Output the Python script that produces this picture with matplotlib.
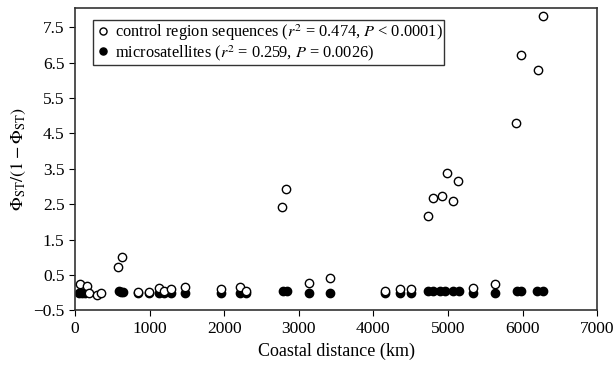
import numpy as np
from matplotlib import pyplot as plt

plt.rcParams['font.family'] = ['Liberation Serif', 'DejaVu Serif']
plt.rcParams['mathtext.fontset'] = 'stix'

# control region sequences (open circles)
cr_dist = [67, 157, 188, 290, 344, 581, 634, 849, 996, 1130, 1193, 1287, 1475,
           1953, 2208, 2288, 2779, 2833, 3140, 3422, 4155, 4361, 4500,
           4732, 4799, 4920, 4987, 5072, 5138, 5330, 5634, 5916, 5974, 6202, 6278]
cr_val = [0.24, 0.18, -0.01, -0.05, -0.01, 0.74, 1.0, 0.02, 0.02, 0.14, 0.05, 0.10, 0.15,
          0.10, 0.15, 0.06, 2.41, 2.92, 0.27, 0.43, 0.05, 0.10, 0.10,
          2.16, 2.69, 2.73, 3.39, 2.60, 3.17, 0.13, 0.25, 4.80, 6.72, 6.28, 7.82]

# microsatellites (filled circles)
ms_dist = [60, 95, 130, 590, 615, 645, 849, 996, 1130, 1193, 1287, 1475,
           1953, 2208, 2288, 2792, 2837, 3140, 3422, 4155, 4361, 4500,
           4736, 4803, 4893, 4960, 5071, 5152, 5330, 5634, 5920, 5974, 6189, 6278]
ms_val = [0.0, 0.0, 0.0, 0.05, 0.03, 0.02, 0.0, 0.0, 0.0, 0.0, 0.0, 0.0,
          0.0, 0.0, 0.0, 0.06, 0.04, -0.01, -0.01, -0.01, -0.01, -0.01,
          0.05, 0.04, 0.05, 0.04, 0.05, 0.04, -0.01, -0.01, 0.06, 0.04, 0.06, 0.04]

fig = plt.figure(figsize=(6.13, 3.67), dpi=100)
ax = fig.add_axes([0.1223, 0.154, 0.852, 0.824])

ax.plot(ms_dist, ms_val, 'o', ms=6, mfc='black', mec='black', mew=1,
        label='microsatellites ($r^2$ = 0.259, $P$ = 0.0026)', zorder=2)
ax.plot(cr_dist, cr_val, 'o', ms=6, mfc='white', mec='black', mew=1,
        label='control region sequences ($r^2$ = 0.474, $P$ < 0.0001)', zorder=3)

ax.set_xlim(0, 7000)
ax.set_ylim(-0.5, 8.04)
ax.set_xticks(np.arange(0, 7001, 1000))
ax.set_yticks(np.arange(-0.5, 7.6, 1.0))
ax.set_yticklabels(['\u22120.5'] + ['%.1f' % v for v in np.arange(0.5, 7.6, 1.0)])
ax.tick_params(direction='out', length=4, labelsize=12.5, top=False, right=False)
for s in ax.spines.values():
    s.set_color('#333333')
    s.set_linewidth(1.2)

ax.set_xlabel('Coastal distance (km)', fontsize=13)
ax.set_ylabel(r'$\Phi_{\rm ST}/(1-\Phi_{\rm ST})$', fontsize=13)

h, l = ax.get_legend_handles_labels()
leg = ax.legend(h[::-1], l[::-1], loc='upper left', bbox_to_anchor=(0.0345, 0.96),
                fontsize=11.8, frameon=True, fancybox=False, edgecolor='black',
                handletextpad=0.2, borderpad=0.12, labelspacing=0.0,
                handlelength=1.0, borderaxespad=0, markerscale=0.85)
leg.get_frame().set_linewidth(1.0)

fig.savefig('out.png', dpi=100)
